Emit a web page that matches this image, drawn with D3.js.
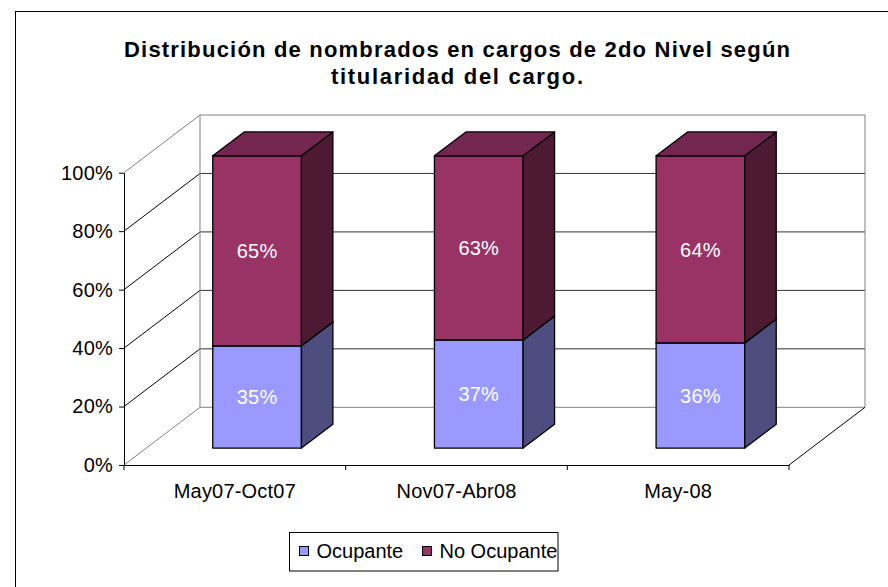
<!DOCTYPE html>
<html>
<head>
<meta charset="utf-8">
<script src="https://cdn.jsdelivr.net/npm/d3@7/dist/d3.min.js"></script>
<style>
  html, body { margin: 0; padding: 0; background: #fff; }
  svg { display: block; }
  text { font-family: "Liberation Sans", Arial, sans-serif; }
</style>
</head>
<body>
<svg id="chart" width="888" height="587"></svg>
<script>
// ---- data ----
const categories = ["May07-Oct07", "Nov07-Abr08", "May-08"];
const seriesNames = ["Ocupante", "No Ocupante"];
const ocupante = [35, 37, 36];
const noOcupante = [65, 63, 64];
const yTicks = [0, 20, 40, 60, 80, 100];
const titleLines = ["Distribución de nombrados en cargos de 2do Nivel según", "titularidad del cargo."];

// ---- styles ----
const frontCol = ["#9999FF", "#993366"];
const sideCol  = ["#4D4D80", "#4D1933"];
const topCol   = ["#73738F", "#732650"];
const FS = 20;

const svg = d3.select("#chart");

// outer border
svg.append("rect").attr("x", 15.5).attr("y", 11.5).attr("width", 900).attr("height", 600)
  .attr("fill", "white").attr("stroke", "#000").attr("stroke-width", 1);

// title
const titleWidths = [666, 252];
const titleY = [57, 84];
titleLines.forEach((t, i) => {
  svg.append("text").attr("x", 457).attr("y", titleY[i]).attr("text-anchor", "middle")
    .attr("font-size", 22).attr("font-weight", "bold")
    .attr("textLength", titleWidths[i]).attr("lengthAdjust", "spacing")
    .text(t);
});

// scales
const x = d3.scaleBand().domain(categories).range([124, 789]).paddingInner(0.6).paddingOuter(0.3);
const y = d3.scaleLinear().domain([0, 100]).range([465, 172.7]);
const D = { dx: 76, dy: -57.7 };
const dA = 0.293, dB = 0.707;
const P = (xv, v, d) => [xv + d * D.dx, y(v) + d * D.dy];
const line = (pts) => "M" + pts.map(p => p.join(",")).join("L");
const poly = (pts) => line(pts) + "Z";

const x0 = x.range()[0], x1 = x.range()[1];
const walls = svg.append("g");
const gray = "#808080";

// back wall gridlines and left wall lines
yTicks.forEach(v => {
  const edge = (v === 0 || v === 100);
  walls.append("path").attr("d", line([P(x0, v, 1), P(x1, v, 1)]))
    .attr("stroke", edge ? gray : "#333").attr("stroke-width", 1).attr("fill", "none");
  walls.append("path").attr("d", line([P(x0, v, 0), P(x0, v, 1)]))
    .attr("stroke", edge ? gray : "#000").attr("stroke-width", 1).attr("fill", "none");
});
walls.append("path").attr("d", line([P(x0, 0, 1), P(x0, 100, 1)])).attr("stroke", gray).attr("fill", "none");
walls.append("path").attr("d", line([P(x1, 0, 1), P(x1, 100, 1)])).attr("stroke", gray).attr("fill", "none");
walls.append("path").attr("d", line([P(x1, 0, 0), P(x1, 0, 1)])).attr("stroke", "#000").attr("fill", "none");

// y axis
const yAxis = svg.append("g").attr("transform", `translate(${x0},0)`)
  .call(d3.axisLeft(y).tickValues(yTicks).tickFormat(d => d + "%").tickSize(5).tickSizeOuter(0).tickPadding(6));
yAxis.select(".domain").attr("stroke", "#000");
yAxis.selectAll(".tick line").attr("stroke", "#000");
yAxis.selectAll("text").attr("font-size", FS).attr("letter-spacing", "0.2px")
  .attr("font-family", "'Liberation Sans', Arial, sans-serif").attr("fill", "#000");

// x axis
const xAxis = svg.append("g").attr("transform", `translate(0,${y(0)})`)
  .call(d3.axisBottom(x).tickSize(0).tickSizeOuter(0).tickPadding(19));
xAxis.select(".domain").attr("stroke", "#000");
xAxis.selectAll("text").attr("font-size", FS).attr("letter-spacing", "0.2px")
  .attr("font-family", "'Liberation Sans', Arial, sans-serif").attr("fill", "#000");
d3.range(categories.length + 1).forEach(i => {
  const bx = x0 + i * x.step();
  xAxis.append("line").attr("x1", bx).attr("x2", bx).attr("y1", 0).attr("y2", 5).attr("stroke", "#000");
});

// bars
const stacks = categories.map((c, i) => {
  const a = ocupante[i], b = noOcupante[i];
  return [{ s: 0, v0: 0, v1: a, val: a }, { s: 1, v0: a, v1: a + b, val: b }];
});
const bars = svg.append("g");
categories.forEach((c, i) => {
  const bx0 = x(c), bx1 = x(c) + x.bandwidth();
  stacks[i].forEach(seg => {
    const g = bars.append("g");
    g.append("path").attr("d", poly([P(bx0, seg.v0, dA), P(bx1, seg.v0, dA), P(bx1, seg.v1, dA), P(bx0, seg.v1, dA)]))
      .attr("fill", frontCol[seg.s]).attr("stroke", "#000").attr("stroke-width", 1.3).attr("stroke-linejoin", "round");
    g.append("path").attr("d", poly([P(bx1, seg.v0, dA), P(bx1, seg.v0, dB), P(bx1, seg.v1, dB), P(bx1, seg.v1, dA)]))
      .attr("fill", sideCol[seg.s]).attr("stroke", "#000").attr("stroke-width", 1.3).attr("stroke-linejoin", "round");
    g.append("path").attr("d", poly([P(bx0, seg.v1, dA), P(bx1, seg.v1, dA), P(bx1, seg.v1, dB), P(bx0, seg.v1, dB)]))
      .attr("fill", topCol[seg.s]).attr("stroke", "#000").attr("stroke-width", 1.3).attr("stroke-linejoin", "round");
    const cp = P((bx0 + bx1) / 2, (seg.v0 + seg.v1) / 2, dA);
    g.append("text").attr("x", cp[0]).attr("y", cp[1]).attr("dy", "0.36em")
      .attr("text-anchor", "middle").attr("fill", "#fff").attr("font-size", FS).attr("letter-spacing", "0.2px")
      .text(seg.val + "%");
  });
});

// legend
const lg = svg.append("g");
lg.append("rect").attr("x", 289.5).attr("y", 532.5).attr("width", 268.5).attr("height", 38.5)
  .attr("fill", "#fff").attr("stroke", "#000").attr("stroke-width", 1);
const legX = [299.5, 422.5];
seriesNames.forEach((n, i) => {
  lg.append("rect").attr("x", legX[i]).attr("y", 546.5).attr("width", 9).attr("height", 9)
    .attr("fill", frontCol[i]).attr("stroke", "#000").attr("stroke-width", 1);
  lg.append("text").attr("x", legX[i] + 17).attr("y", 558).attr("font-size", FS)
    .attr("fill", "#000").text(n);
});
</script>
</body>
</html>
